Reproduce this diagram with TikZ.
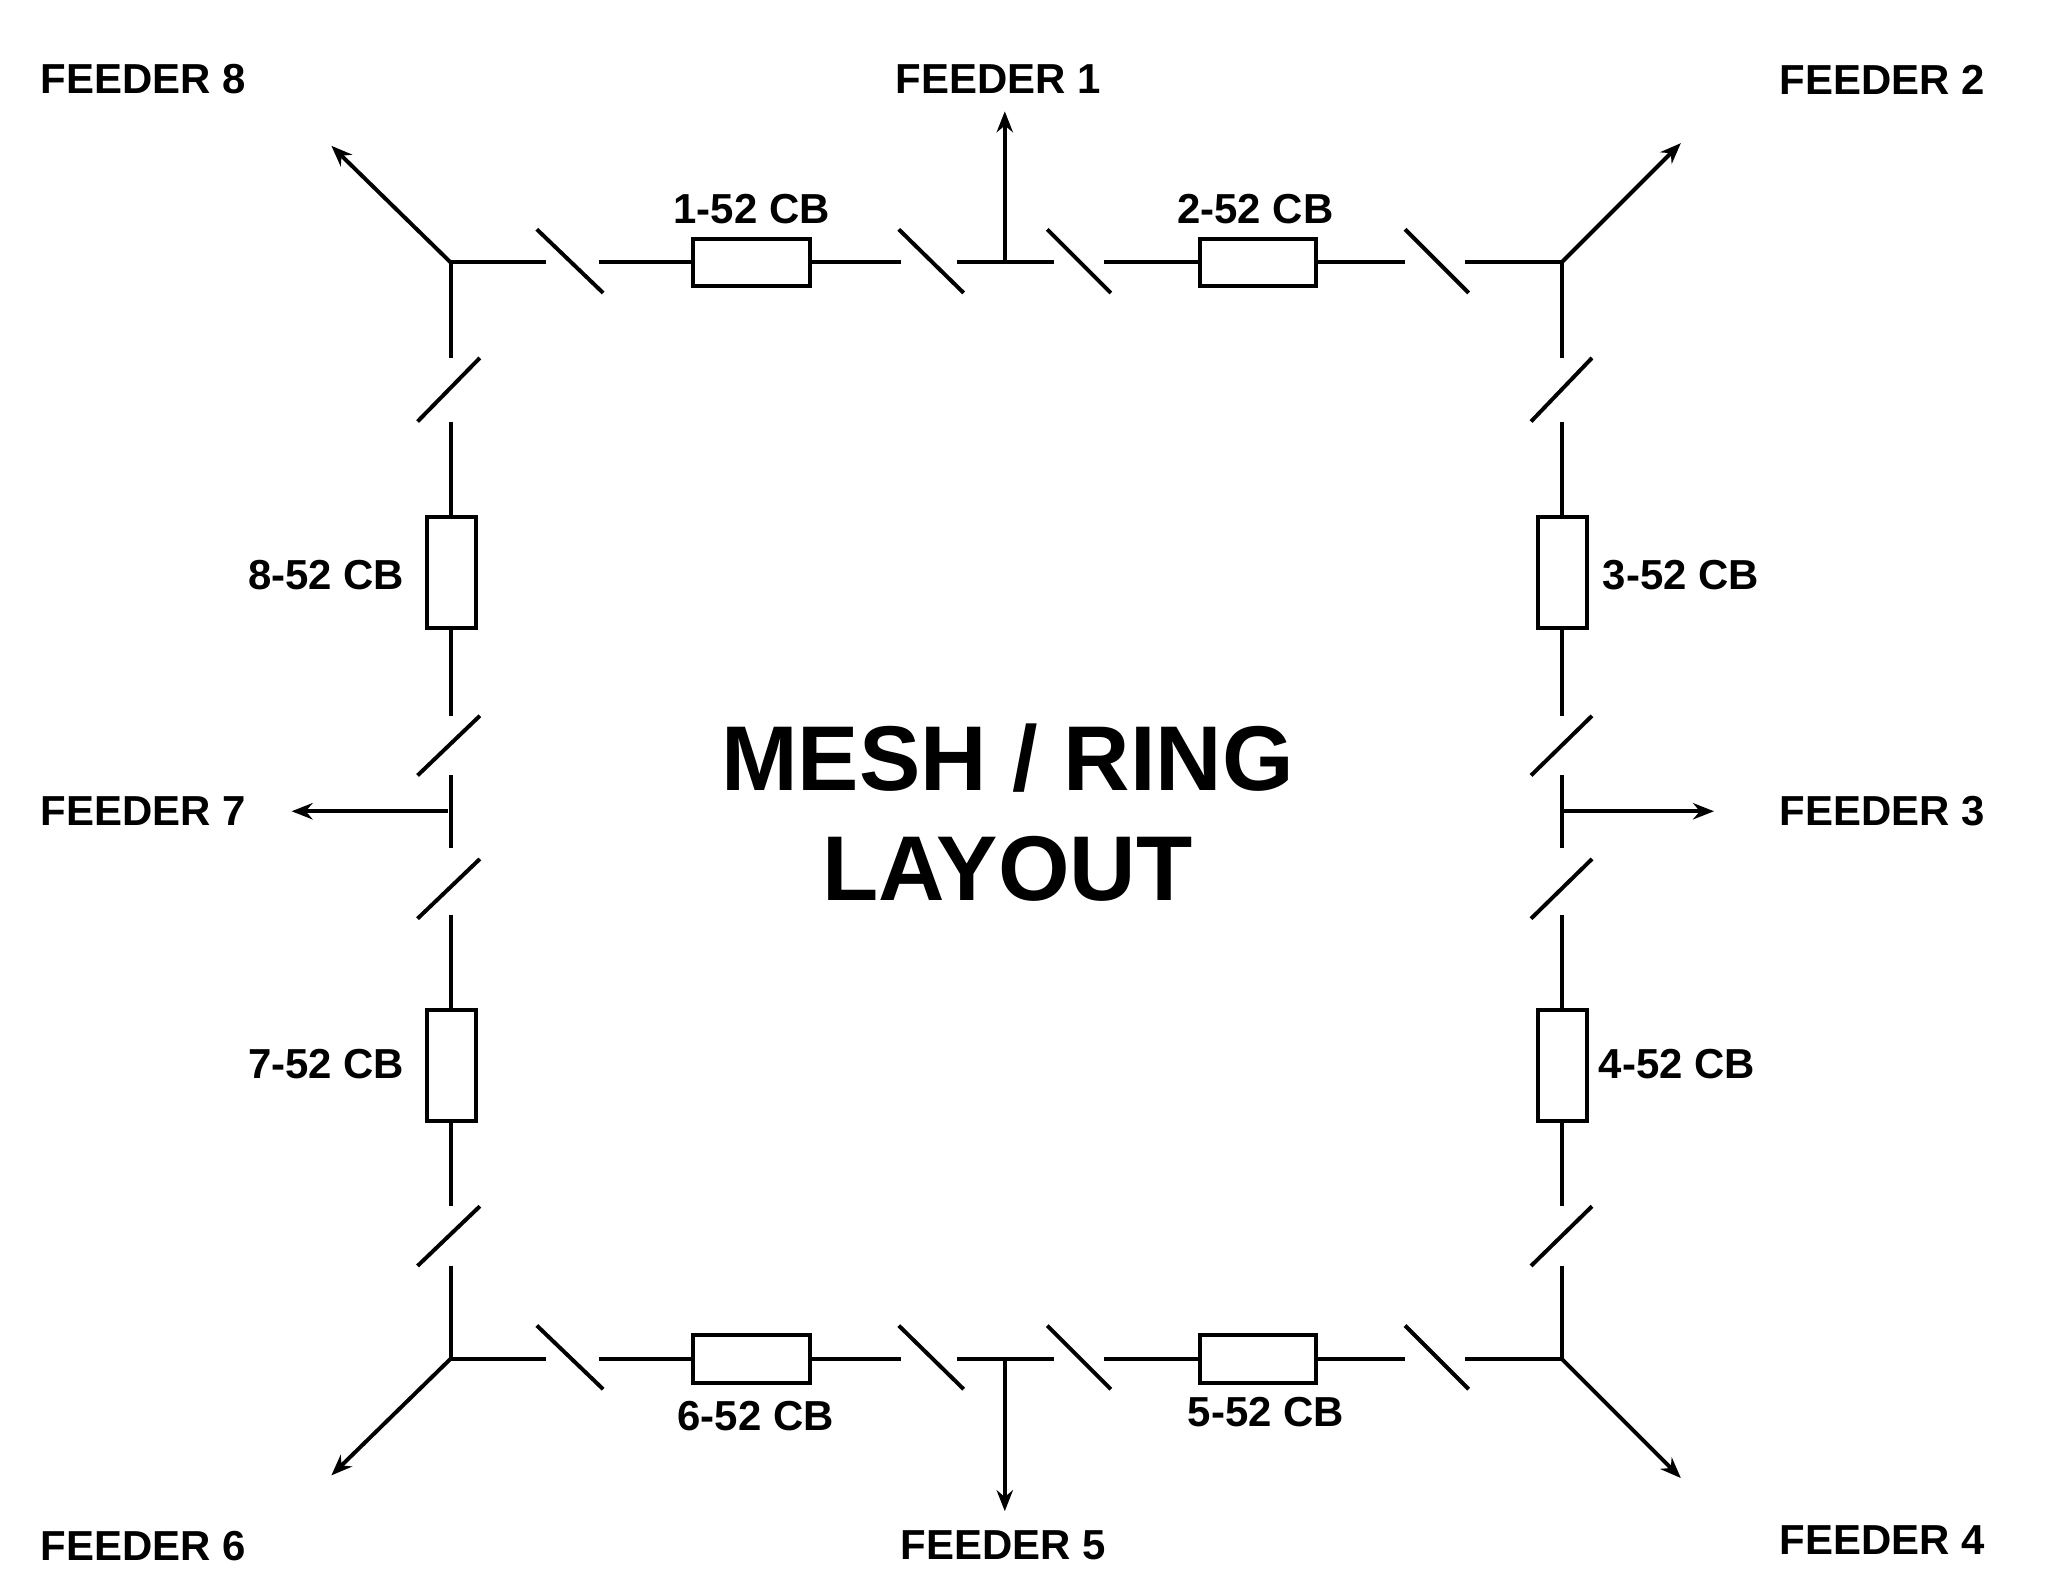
\documentclass[tikz,border=0pt]{standalone}
\usepackage{fontspec}
\setmainfont{Liberation Sans}
\usetikzlibrary{arrows.meta}
\begin{document}
\begin{tikzpicture}[x=0.02cm,y=-0.02cm,
  ln/.style={line width=1.7pt},
  ar/.style={line width=1.7pt,-{Stealth[length=9pt,width=7pt]}},
  cb/.style={draw,line width=1.7pt,fill=white},
  lbl/.style={font=\bfseries\fontsize{18}{20}\selectfont},
  ttl/.style={font=\bfseries\fontsize{39.5}{47}\selectfont,align=center}]
\useasboundingbox (0,0) rectangle (1545,1193);
% top
\draw[ln] (340,198)--(412,198) (452,198)--(523,198) (611,198)--(680,198) (722,198)--(795,198) (833,198)--(905,198) (993,198)--(1060,198) (1105,198)--(1178,198);
\draw[ln] (405,173)--(455,221) (678,173)--(727,221) (790,173)--(838,221) (1060,173)--(1108,221);
\draw[cb] (523,180) rectangle (611,216);
\draw[cb] (905,180) rectangle (993,216);
% bottom
\draw[ln] (340,1025)--(412,1025) (452,1025)--(523,1025) (611,1025)--(680,1025) (722,1025)--(795,1025) (833,1025)--(905,1025) (993,1025)--(1060,1025) (1105,1025)--(1178,1025);
\draw[ln] (405,1000)--(455,1048) (678,1000)--(727,1048) (790,1000)--(838,1048) (1060,1000)--(1108,1048);
\draw[cb] (523,1007) rectangle (611,1043);
\draw[cb] (905,1007) rectangle (993,1043);
% left
\draw[ln] (340,198)--(340,270) (340,318)--(340,390) (340,474)--(340,540) (340,585)--(340,640) (340,690)--(340,762) (340,846)--(340,910) (340,955)--(340,1025);
\draw[ln] (315,318)--(362,270) (315,585)--(362,540) (315,693)--(362,648) (315,955)--(362,910);
\draw[cb] (322,390) rectangle (359,474);
\draw[cb] (322,762) rectangle (359,846);
% right
\draw[ln] (1178,198)--(1178,270) (1178,318)--(1178,390) (1178,474)--(1178,540) (1178,585)--(1178,640) (1178,690)--(1178,762) (1178,846)--(1178,910) (1178,955)--(1178,1025);
\draw[ln] (1155,318)--(1201,270) (1155,585)--(1201,540) (1155,693)--(1201,648) (1155,955)--(1201,910);
\draw[cb] (1160,390) rectangle (1197,474);
\draw[cb] (1160,762) rectangle (1197,846);
% feeders
\draw[ar] (758,198)--(758,84);
\draw[ar] (758,1025)--(758,1140);
\draw[ar] (338,612)--(220,612);
\draw[ar] (1180,612)--(1293,612);
\draw[ar] (340,198)--(250,110);
\draw[ar] (1178,198)--(1268,108);
\draw[ar] (340,1025)--(250,1113);
\draw[ar] (1178,1025)--(1268,1115);
% labels
\node[lbl] (f8) at (108,60) {FEEDER 8};
\node[lbl] (f1) at (753,60) {FEEDER 1};
\node[lbl] (f2) at (1420,60) {FEEDER 2};
\node[lbl] (f7) at (108,612) {FEEDER 7};
\node[lbl] (f3) at (1420,612) {FEEDER 3};
\node[lbl] (f6) at (108,1166) {FEEDER 6};
\node[lbl] (f5) at (757,1166) {FEEDER 5};
\node[lbl] (f4) at (1420,1162) {FEEDER 4};
\node[lbl] (c1) at (567,158) {1-52 CB};
\node[lbl] (c2) at (947,158) {2-52 CB};
\node[lbl] (c8) at (246,434) {8-52 CB};
\node[lbl] (c3) at (1268,434) {3-52 CB};
\node[lbl] (c7) at (246,803) {7-52 CB};
\node[lbl] (c4) at (1265,803) {4-52 CB};
\node[lbl] (c6) at (570,1068) {6-52 CB};
\node[lbl] (c5) at (955,1065) {5-52 CB};
\node[ttl] (t) at (760,613) {MESH / RING\\LAYOUT};
\end{tikzpicture}
\end{document}
